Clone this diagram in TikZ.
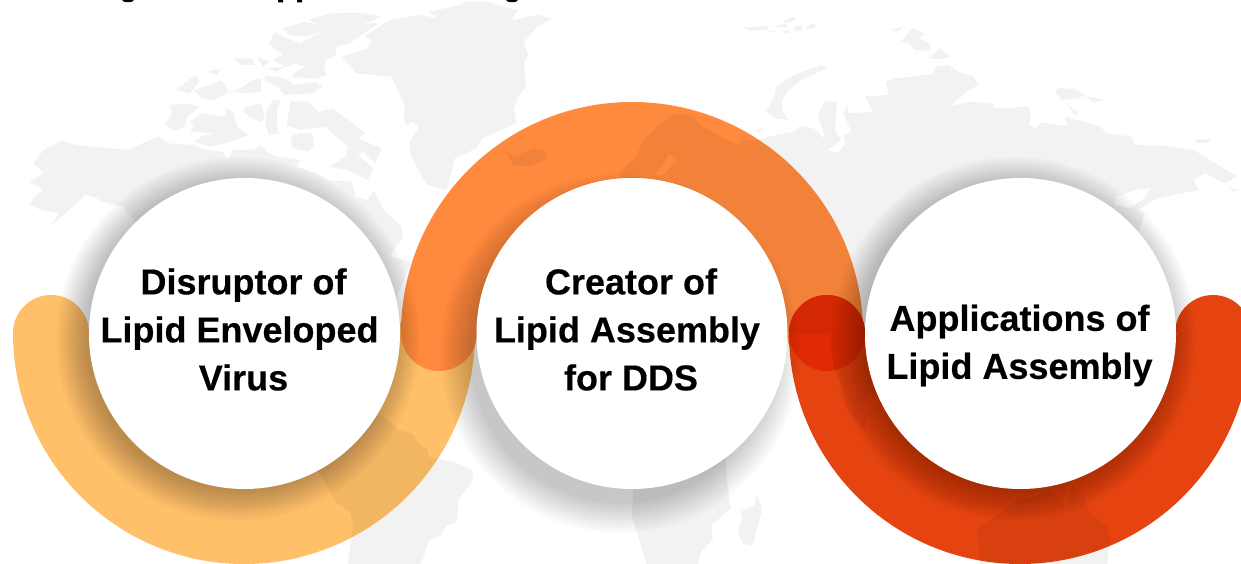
\documentclass[tikz,border=0pt]{standalone}
\usepackage{fontspec}
\setmainfont{Liberation Sans}[BoldFeatures={FakeBold=0.3}]
\definecolor{ringY}{HTML}{FFC069}
\definecolor{ringO}{HTML}{FF8A3D}
\definecolor{ringR}{HTML}{E54411}
\definecolor{capR}{HTML}{E02A04}
\tikzset{
  ringpath/.style={line width=76pt,line cap=round},
  disc/.style={circle,fill=white,minimum size=311pt,inner sep=0pt},
  label/.style={font=\bfseries\fontsize{36}{48}\selectfont,align=center,text=black},
  landmass/.style={fill=black,fill opacity=0.052,even odd rule,draw=none},
  z1/.style={x=.3954pt,y=-.33333pt},
  z2/.style={shift={(620,0)},x=.3954pt,y=-.33333pt},
  z3/.style={shift={(0,282)},x=.3954pt,y=-.33333pt},
  z4/.style={shift={(620,282)},x=.3954pt,y=-.33333pt},
}
\newcommand{\softdisc}[5]{% x y radius spread peak
  \foreach \k in {0,1,...,13}{
    \fill[black,fill opacity=#5] (#1,#2) circle ({#3+#4*(1-\k/13)});
  }
}
\begin{document}
\begin{tikzpicture}[x=1pt,y=-1pt]
\useasboundingbox (0,0) rectangle (1241,564);
\fill[white] (0,0) rectangle (1241,564);
\begin{scope}
\clip (0,0) rectangle (1241,564);
% rings
\draw[ringpath,ringY] (51,333) arc[start angle=180,end angle=0,radius=193];
\draw[ringpath,ringO] (439,333) arc[start angle=180,end angle=360,radius=193];
\draw[ringpath,ringR] (827,333) arc[start angle=180,end angle=0,radius=193];
\fill[capR] (827,333) circle (38);
% shadows of the discs
\softdisc{620}{353}{150}{30}{0.016}
\softdisc{238}{339}{152}{30}{0.020}
\softdisc{1014}{339}{152}{30}{0.020}
% map
\begin{scope}[z1]
\fill[landmass]
 (80,705)--(130,675)--(175,630)--(215,585)--(235,590)--(260,605)--(310,620)--(340,660)--(620,800)--(1000,900)--(1040,785)--(985,770)--(1020,710)--(1015,680)--(970,630)--(945,570)--(930,600)--(900,590)--(890,545)--(830,540)--(800,520)--(750,500)--(760,480)--(700,470)--(680,460)--(660,435)--(640,450)--(590,450)--(575,478)--(565,455)--(520,450)--(490,435)--(425,430)--(400,410)--(350,435)--(325,450)--(190,435)--(155,422)--(110,450)--(85,490)--(110,520)--(75,545)--(110,570)--(85,590)--(75,615)--(105,630)--(150,640)--(130,675)--cycle
 (865,170)--(930,145)--(940,120)--(920,110)--(985,60)--(1060,45)--(1110,55)--(1085,35)--(1165,15)--(1175,5)--(1230,5)--(1290,25)--(1310,30)--(1295,55)--(1300,60)--(1360,45)--(1395,55)--(1360,80)--(1325,125)--(1335,165)--(1325,190)--(1330,260)--(1310,290)--(1300,330)--(1305,370)--(1220,415)--(1205,445)--(1150,475)--(1130,570)--(1080,555)--(1040,470)--(1035,425)--(1060,385)--(1045,365)--(1025,375)--(1020,340)--(1025,320)--(990,230)--(900,220)--cycle
 (715,85)--(770,65)--(810,75)--(780,60)--(835,40)--(900,38)--(965,48)--(940,65)--(910,70)--(960,70)--(920,100)--(885,130)--(850,140)--(850,165)--(825,180)--(820,205)--(825,225)--(800,235)--(735,232)--(750,215)--(770,200)--(745,190)--(720,200)--(690,180)--(715,165)--(680,130)--(695,95)--(715,110)--(760,130)--(790,110)--(830,90)--(770,110)--(730,105)--cycle
 (735,305)--(780,305)--(805,335)--(840,325)--(870,350)--(925,400)--(905,415)--(965,445)--(950,490)--(920,455)--(905,465)--(945,505)--(930,540)--(880,510)--(830,500)--(875,470)--(880,440)--(850,410)--(820,380)--(760,390)--(725,375)--cycle
 (670,225)--(720,235)--(745,255)--(800,245)--(815,260)--(790,280)--(720,285)--(700,260)--(670,240)--cycle
 (430,315)--(475,310)--(505,320)--(475,350)--(465,380)--(440,392)--(418,372)--(435,340)--cycle
 (445,270)--(495,225)--(505,245)--(480,280)--cycle
 (480,365)--(510,340)--(570,350)--(570,325)--(590,335)--(600,380)--(630,405)--(605,415)--(570,430)--(530,440)--(490,425)--(510,410)--(540,400)--(480,395)--(490,380)--cycle
 (620,320)--(660,310)--(670,350)--(660,365)--(635,355)--(615,335)--cycle
 (675,330)--(690,300)--(710,300)--(700,330)--(700,375)--(705,400)--(680,405)--(670,370)--cycle
 (490,270)--(530,255)--(560,240)--(580,280)--(600,270)--(640,240)--(660,235)--(660,275)--(625,280)--(580,275)--(540,300)--(510,295)--cycle
 (520,215)--(560,205)--(550,225)--cycle
 (590,175)--(640,175)--(645,195)--(610,195)--cycle
 (650,170)--(680,185)--(665,200)--cycle
 (675,205)--(720,200)--(700,215)--cycle
 (755,400)--(790,400)--(795,440)--(780,455)--(740,445)--(735,410)--cycle
 (1275,450)--(1300,470)--(1350,445)--(1385,455)--(1380,480)--(1340,498)--(1300,500)--cycle;
\end{scope}
\begin{scope}[z2]
\fill[landmass]
 (350,420)--(395,405)--(440,395)--(455,378)--(490,385)--(520,420)--(510,380)--(500,350)--(515,305)--(550,305)--(545,350)--(545,395)--(560,420)--(525,450)--(550,460)--(570,430)--(565,405)--(585,395)--(598,430)--(565,340)--(575,315)--(580,340)--(640,335)--(620,290)--(680,285)--(672,245)--(700,235)--(790,222)--(800,200)--(830,195)--(855,215)--(895,230)--(905,255)--(870,280)--(835,318)--(890,305)--(945,312)--(945,325)--(985,325)--(1030,318)--(1040,340)--(1035,375)--(1050,385)--(1065,368)--(1130,378)--(1125,350)--(1215,380)--(1230,400)--(1295,410)--(1300,435)--(1385,438)--(1450,450)--(1520,500)--(1560,530)--(1530,550)--(1480,520)--(1450,540)--(1465,570)--(1400,585)--(1350,600)--(1310,630)--(1325,640)--(1320,670)--(1310,690)--(1100,1100)--(650,1186)--(625,1186)--(615,1226)--(625,1246)--(620,1291)--(600,1266)--(570,1216)--(555,1136)--(540,1110)--(530,1000)--(430,1000)--(400,1000)--(300,800)--(0,700)--(0,515)--(40,470)--(60,420)--(100,375)--(140,340)--(185,350)--(210,380)--(270,420)--(300,435)--(310,420)--cycle
 (1250,615)--(1255,590)--(1305,570)--(1340,565)--(1330,590)--(1290,625)--cycle
 (125,460)--(145,480)--(110,525)--(85,525)--(110,490)--cycle
 (370,335)--(390,290)--(395,260)--(440,225)--(510,195)--(522,205)--(460,240)--(425,270)--(410,300)--(410,330)--(425,360)--(395,355)--cycle
 (310,82)--(375,78)--(370,90)--(330,92)--cycle
 (400,75)--(420,72)--(425,80)--(395,82)--cycle
 (370,92)--(395,95)--(380,98)--cycle
 (405,95)--(430,90)--(425,100)--cycle
 (440,80)--(460,75)--(460,90)--(445,95)--cycle
 (470,80)--(495,68)--(495,80)--(475,88)--cycle
 (410,65)--(440,50)--(445,58)--(425,68)--cycle
 (685,88)--(720,80)--(700,97)--cycle
 (710,125)--(740,85)--(770,100)--(755,115)--(785,130)--(785,152)--(745,150)--(730,130)--cycle
 (780,175)--(810,145)--(835,170)--(810,178)--cycle
 (1100,270)--(1115,262)--(1140,268)--(1145,262)--(1175,285)--(1160,295)--(1115,300)--cycle
 (1180,290)--(1225,298)--(1200,310)--cycle
 (1130,310)--(1160,340)--(1150,345)--cycle
 (1455,418)--(1495,418)--(1490,428)--(1458,430)--cycle
 (340,390)--(365,385)--(350,398)--cycle
 (1540,562)--(1565,572)--(1550,575)--cycle;
\end{scope}
\begin{scope}[z3]
\fill[landmass]
 (965,400)--(1010,445)--(1045,455)--(1055,480)--(1080,500)--(1085,525)--(1150,540)--(1195,565)--(1195,600)--(1160,650)--(1155,720)--(1130,730)--(1115,760)--(1085,775)--(1070,830)--(1055,860)--(878,860)--(893,730)--(885,690)--(850,660)--(830,620)--(808,575)--(700,400)--cycle;
\end{scope}
\begin{scope}[z4]
\fill[landmass]
 (265,500)--(270,590)--(280,680)--(230,730)--(235,770)--(205,810)--(195,860)--(70,860)--(30,700)--(40,500)--cycle
 (345,640)--(360,680)--(335,790)--(310,785)--(298,745)--(310,710)--(305,690)--(340,670)--cycle
 (905,740)--(970,690)--(1010,645)--(1040,650)--(1090,620)--(1130,675)--(1145,610)--(1175,650)--(1185,690)--(1230,730)--(1240,780)--(1230,860)--(910,860)--cycle;
\end{scope}
% descender fragments of the cropped line above the picture
\fill[black] (128,0) ellipse (6 and 2.2) (512,0) ellipse (6 and 2.2);
\fill[black] (278,0) rectangle (283,2.5) (297,0) rectangle (302,2.5);
\end{scope}
% discs
\node[disc] (d1) at (244.5,333.5) {};
\node[disc] (d2) at (632,333.5) {};
\node[disc] (d3) at (1020.5,333.5) {};
\node[label] (t1) at (243.5,329.5) {Disruptor of\\Lipid Enveloped\rule{8pt}{0pt}\\Virus};
\node[label] (t2) at (631,329.5) {Creator of\\Lipid Assembly\rule{8pt}{0pt}\\for DDS};
\node[label] (t3) at (1019.5,345.5) {Applications of\\Lipid Assembly};
\end{tikzpicture}
\end{document}
